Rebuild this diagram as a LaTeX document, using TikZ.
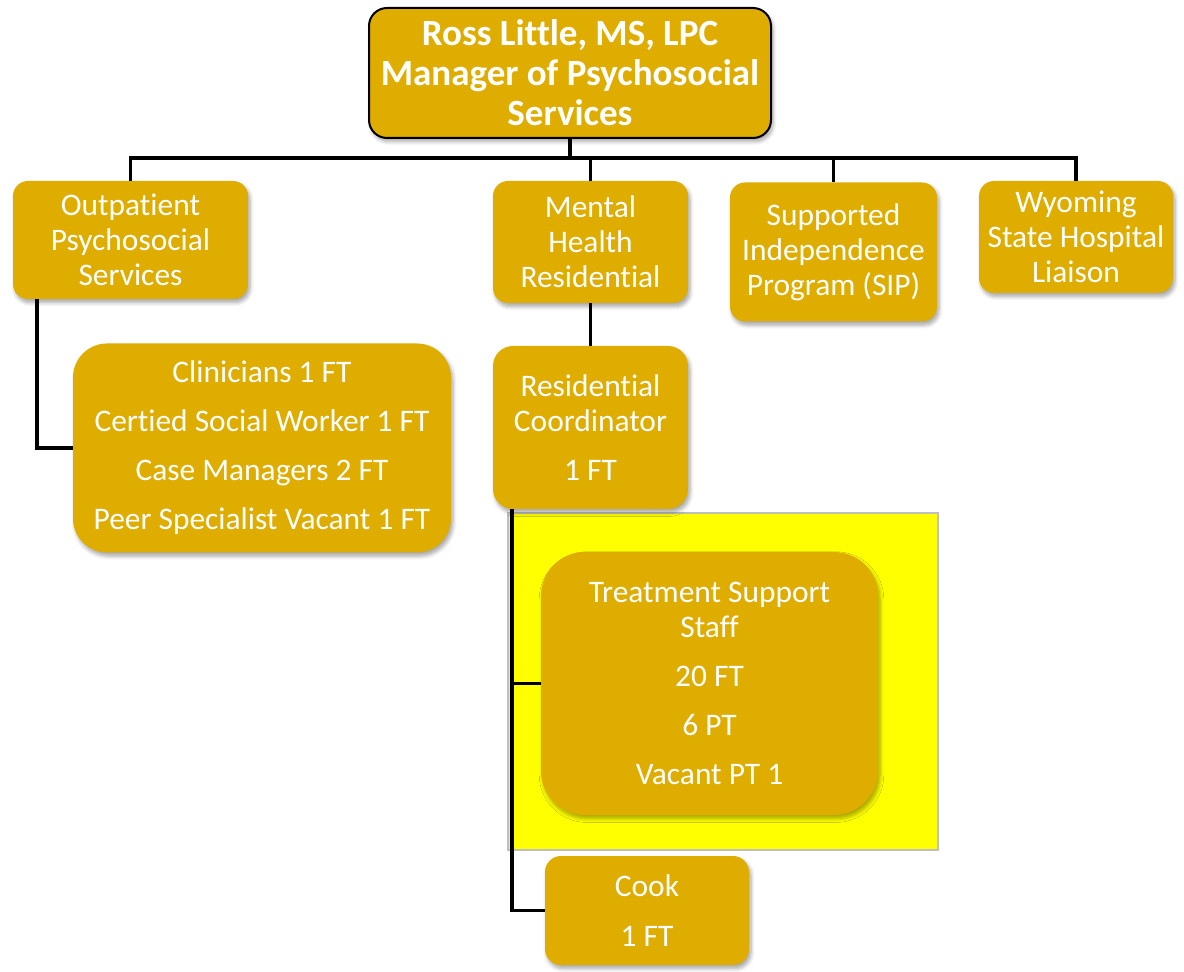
\documentclass[tikz,border=0pt]{standalone}
\usepackage{fontspec}
\setmainfont{Carlito}[Ligatures=CommonOff]
\usetikzlibrary{shadows,shadows.blur}
\definecolor{gold}{HTML}{DFAC00}
\definecolor{hilite}{HTML}{FFFF00}
\tikzset{
  orgbox/.style={rectangle, rounded corners=7.5pt, fill=gold, text=white,
    font=\fontsize{15.7}{17.5}\selectfont, align=center, inner sep=0pt,
    blur shadow={shadow xshift=1pt, shadow yshift=-1.8pt, shadow blur steps=6, shadow opacity=35}},
  headbox/.style={orgbox, draw=black, line width=1pt, rounded corners=9pt,
    font=\bfseries\fontsize{18.5}{20}\selectfont},
  conn/.style={draw=black, line width=1.7pt},
}
\begin{document}
\begin{tikzpicture}[x=0.5pt,y=-0.5pt]
\useasboundingbox (0,0) rectangle (1184,972);
% highlight
\filldraw[fill=hilite, draw=black!25, line width=0.6pt] (508,513) rectangle (938,850);

\node[headbox, minimum width=201pt, minimum height=65pt] (top) at (570,73)
  {Ross Little, MS, LPC\\Manager of Psychosocial\\Services};
\node[orgbox, minimum width=117.5pt, minimum height=59pt] (out) at (130.5,240)
  {Outpatient\\Psychosocial\\Services};
\node[orgbox, minimum width=97.5pt, minimum height=61pt] (mhr) at (590.5,242)
  {Mental\\Health\\Residential};
\node[orgbox, minimum width=103.5pt, minimum height=69.5pt] (sip) at (833.5,252)
  {Supported\\Independence\\Program (SIP)};
\node[orgbox, minimum width=97pt, minimum height=56pt] (wyo) at (1076,237)
  {Wyoming\\State Hospital\\Liaison};
\node[orgbox, rounded corners=17pt, minimum width=189pt, minimum height=104.5pt] (clin) at (262,448)
  {Clinicians 1 FT\\[7pt]Certied Social Worker 1 FT\\[7pt]Case Managers 2 FT\\[7pt]Peer Specialist Vacant 1 FT};
\node[orgbox, rounded corners=10pt, minimum width=97.5pt, minimum height=81.5pt] (rc) at (590.5,427.5)
  {Residential\\Coordinator\\[7pt]1 FT};
\node[orgbox, rounded corners=22pt, minimum width=168.5pt, minimum height=131.5pt] (tss) at (709.5,683.5)
  {Treatment Support\\Staff\\[7pt]20 FT\\[7pt]6 PT\\[7pt]Vacant PT 1};
\node[orgbox, rounded corners=8pt, minimum width=102pt, minimum height=54.5pt] (cook) at (647,910.5)
  {Cook\\[7.5pt]1 FT};

% connectors
\coordinate (bus) at (570,158);
\coordinate (oc) at (37,299);
\coordinate (rcb) at (512,509);
\draw[conn] (top.south) -- (bus);
\draw[conn] (out.north) |- (bus);
\draw[conn] (mhr.north) |- (bus);
\draw[conn] (sip.north) |- (bus);
\draw[conn] (wyo.north) |- (bus);
\draw[conn] (oc) |- (clin.west);
\draw[conn] (mhr.south) -- (rc.north);
\draw[conn] (rcb) |- (tss.west);
\draw[conn] (rcb) |- (cook.west);
\end{tikzpicture}
\end{document}
